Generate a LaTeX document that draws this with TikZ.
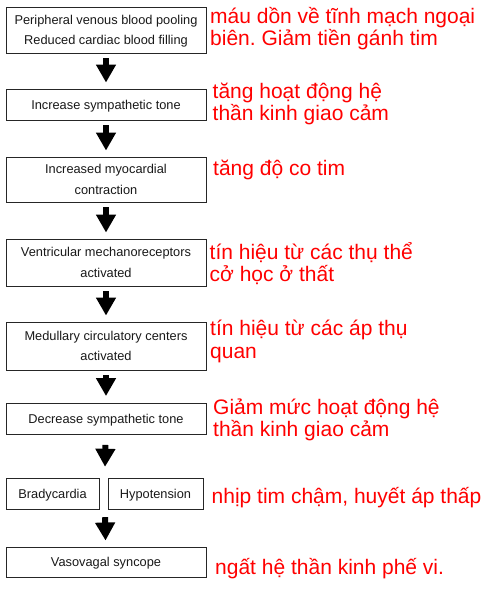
\documentclass[tikz,border=0pt]{standalone}
\usepackage{fontspec}
\setmainfont{Liberation Sans}
\usetikzlibrary{arrows.meta}
\frenchspacing

\tikzset{
	stepbox/.style={draw=black!85, line width=0.9pt, minimum width=200pt, inner sep=0pt, text depth=0pt, align=center, text=black!90, font=\fontsize{12.8}{20.5}\selectfont},
	twobox/.style={stepbox, text depth=-3pt},
	flow/.style={line width=6pt, -{Triangle[width=19pt,length=18pt]}, shorten <=5pt, shorten >=6pt},
	note/.style={text=red, anchor=base west, align=left, inner sep=0pt, font=\fontsize{21}{22.5}\selectfont}
}

\begin{document}
\begin{tikzpicture}[x=1pt,y=-1pt]
		%%%%% START %%%%%
		
		\useasboundingbox[fill=white] (0,0) rectangle (500,594);
		
		\node[twobox, minimum height=46pt] (pool) at (106, 30) {Peripheral venous blood pooling\\Reduced cardiac blood filling};
		\node[stepbox, minimum height=31pt] (tone) at (106, 104.5) {Increase sympathetic tone};
		\node[twobox, minimum height=45pt] (myo) at (106, 179.5) {Increased myocardial\\contraction};
		\node[twobox, minimum height=47pt] (vent) at (106, 262.5) {Ventricular mechanoreceptors\\activated};
		\node[twobox, minimum height=48pt] (medul) at (106, 346) {Medullary circulatory centers\\activated};
		\node[stepbox, minimum height=31pt] (dec) at (106, 419) {Decrease sympathetic tone};
		
		\node[minimum width=197pt, minimum height=31pt, inner sep=0pt] (pair) at (104.5, 493.5) {};
		\node[stepbox, minimum width=93pt, minimum height=31pt] (brady) at (52.5, 493.5) {Bradycardia};
		\node[stepbox, minimum width=95pt, minimum height=31pt] (hypo) at (155.5, 493.5) {Hypotension};
		
		\node[stepbox, minimum height=30pt] (sync) at (106, 562) {Vasovagal syncope};
		
		\draw[flow] (pool) -- (tone);
		\draw[flow] (tone) -- (myo);
		\draw[flow] (myo) -- (vent);
		\draw[flow] (vent) -- (medul);
		\draw[flow, shorten >=7pt] (medul) -- (dec);
		\draw[flow, shorten <=10pt, shorten >=11pt] (dec) -- (pair);
		\draw[flow, shorten <=8pt] (pair) -- (sync);
		
		\node[note] (notepool) at (210, 46) {máu dồn về tĩnh mạch ngoại\\biên. Giảm tiền gánh tim};
		\node[note] (notetone) at (212.5, 120.7) {tăng hoạt động hệ\\thần kinh giao cảm};
		\node[note] (notemyo) at (213, 175) {tăng độ co tim};
		\node[note] (notevent) at (209.5, 281.7) {tín hiệu từ các thụ thể\\cở học ở thất};
		\node[note] (notemedul) at (210, 358.3) {tín hiệu từ các áp thụ\\quan};
		\node[note] (notedec) at (213, 436.5) {Giảm mức hoạt động hệ\\thần kinh giao cảm};
		\node[note] (notepair) at (211.5, 503.5) {nhịp tim chậm, huyết áp thấp};
		\node[note] (notesync) at (215, 574) {ngất hệ thần kinh phế vi.};
		
		%%%%% END %%%%%
	\end{tikzpicture}
\end{document}
